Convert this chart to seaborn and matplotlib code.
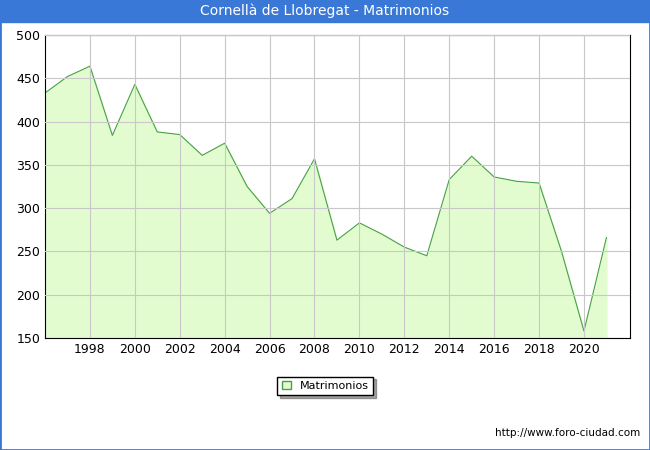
import matplotlib
matplotlib.use("Agg")
import matplotlib.pyplot as plt
import seaborn as sns
import pandas as pd

years = list(range(1996, 2022))
matrimonios = [433, 452, 464, 384, 443, 388, 385, 361, 375, 325, 294, 311, 357,
               263, 283, 270, 255, 245, 333, 360, 336, 331, 329, 250, 158, 266]
tick_years = list(range(1998, 2021, 2))

df = pd.DataFrame({"year": years, "value": matrimonios})

fig = plt.figure(figsize=(6.5, 4.5), dpi=100)
fig.patch.set_facecolor("white")
ax = fig.add_axes([45 / 650, 1 - 338 / 450, 585 / 650, 303 / 450])

ax.fill_between(df["year"], df["value"], 150, color="#e2fccf", zorder=1)
sns.lineplot(data=df, x="year", y="value", ax=ax, color="#4aa04a", linewidth=0.8, zorder=2)

ax.set_xlim(1996, 2022.05)
ax.set_ylim(150, 500)
ax.set_xticks(tick_years)
ax.set_yticks(range(150, 501, 50))
ax.grid(True, color="#c8c8c8", linewidth=0.8)
ax.set_axisbelow(False)
for l in ax.get_xgridlines() + ax.get_ygridlines():
    l.set_zorder(3)
ax.set_xlabel("")
ax.set_ylabel("")
ax.tick_params(labelsize=9, length=0)
for s in ax.spines.values():
    s.set_color("black")

# title bar
fig.patches.append(plt.Rectangle((0, 1 - 22 / 450), 1, 22 / 450, transform=fig.transFigure,
                                 color="#3a78d8", zorder=0))
fig.patches.append(plt.Rectangle((0, 0), 1, 1, transform=fig.transFigure, fill=False,
                                 edgecolor="#3a78d8", linewidth=2))
fig.text(0.5, 1 - 11 / 450, "Cornellà de Llobregat - Matrimonios", ha="center", va="center",
         color="white", fontsize=10)

# legend
handle = plt.Rectangle((0, 0), 1, 1, facecolor="#e2fccf", edgecolor="#4aa04a")
leg = fig.legend([handle], ["Matrimonios"], loc="center", bbox_to_anchor=(325 / 650, 1 - 386 / 450),
                 fontsize=8, fancybox=False, shadow=True, edgecolor="black", handlelength=0.8)

fig.text(640 / 650, 1 - 433 / 450, "http://www.foro-ciudad.com", ha="right", va="center", fontsize=7.5)

fig.savefig("out.png", dpi=100)
